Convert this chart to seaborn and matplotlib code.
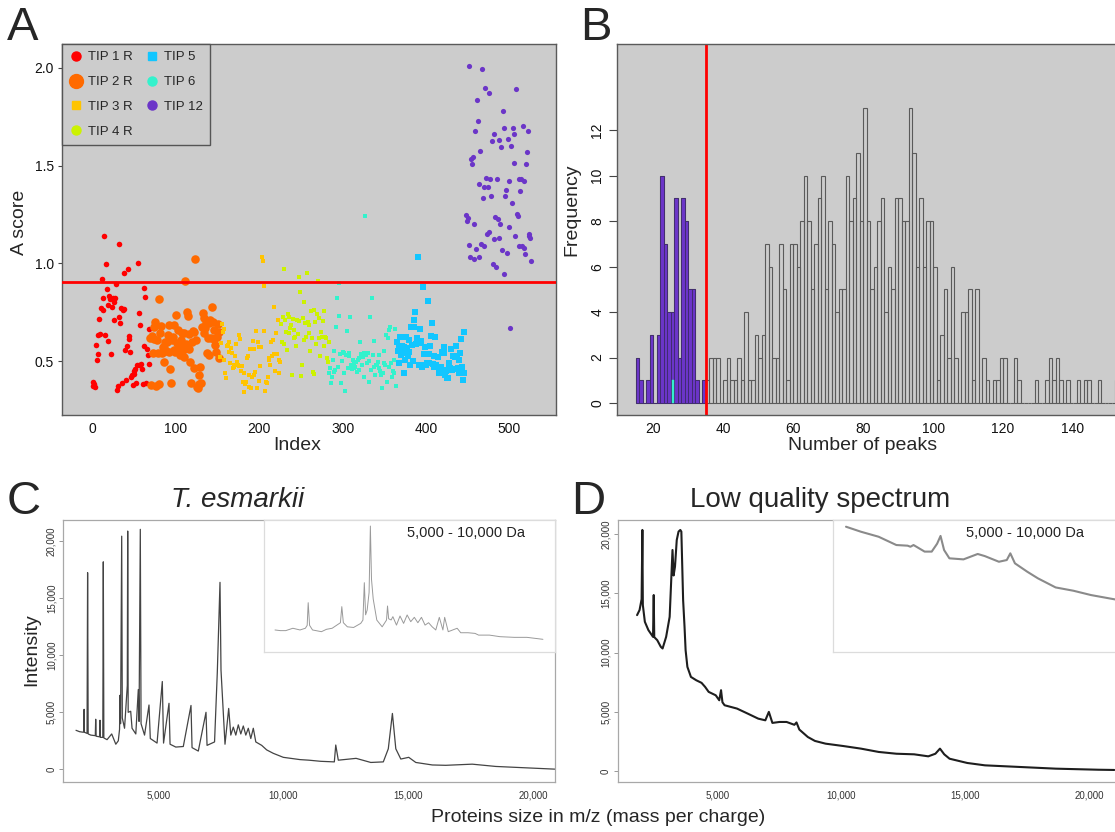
import numpy as np
import pandas as pd
import seaborn as sns
import matplotlib.pyplot as plt
from matplotlib.lines import Line2D

W, H = 1115, 832

# ---------------- panel A: A score per sample ----------------
tip_names = ["TIP 1 R", "TIP 2 R", "TIP 3 R", "TIP 4 R", "TIP 6", "TIP 5", "TIP 12"]
tip_first_index = [0, 69, 153, 226, 284, 365, 448]
tip_colors = ["#ff0000", "#ff6a00", "#ffc400", "#ccf200", "#33f2cc", "#12c6ff", "#6b35c8"]
tip_markers = ["o", "o", "s", "s", "s", "s", "o"]
tip_sizes = [16, 38, 11, 11, 11, 13, 14]

score_tip1r = [0.375, 0.396, 0.384, 0.370, 0.583, 0.508, 0.537, 0.633, 0.714, 0.638,
               0.770, 0.919, 0.822, 0.762, 1.140, 0.633, 0.997, 0.869, 0.602, 0.788,
               0.832, 0.818, 0.537, 0.776, 0.823, 0.709, 0.803, 0.822, 0.895, 0.353,
               0.374, 1.099, 0.728, 0.696, 0.772, 0.387, 0.760, 0.949, 0.767, 0.556,
               0.403, 0.578, 0.970, 0.627, 0.612, 0.546, 0.418, 0.428, 0.377, 0.452,
               0.432, 0.462, 0.391, 0.479, 1.002, 0.747, 0.483, 0.687, 0.486, 0.462,
               0.384, 0.873, 0.580, 0.828, 0.391, 0.563, 0.530, 0.663, 0.488]
score_tip2r = [0.617, 0.378, 0.629, 0.540, 0.613, 0.676, 0.702, 0.373, 0.608, 0.540,
               0.383, 0.819, 0.642, 0.680, 0.540, 0.574, 0.496, 0.566, 0.600, 0.554,
               0.600, 0.634, 0.549, 0.685, 0.458, 0.387, 0.608, 0.625, 0.685, 0.557,
               0.545, 0.736, 0.591, 0.659, 0.561, 0.578, 0.530, 0.608, 0.642, 0.557,
               0.520, 0.642, 0.911, 0.588, 0.753, 0.731, 0.560, 0.639, 0.497, 0.387,
               0.600, 0.656, 0.463, 0.651, 1.020, 0.608, 0.370, 0.361, 0.383, 0.429,
               0.472, 0.390, 0.676, 0.744, 0.719, 0.642, 0.668, 0.693, 0.540, 0.620,
               0.697, 0.532, 0.710, 0.617, 0.775, 0.702, 0.612, 0.660, 0.585, 0.545,
               0.625, 0.690, 0.515, 0.650]
score_tip3r = [0.520, 0.592, 0.689, 0.648, 0.507, 0.663, 0.438, 0.415, 0.578, 0.583,
               0.549, 0.600, 0.490, 0.566, 0.544, 0.464, 0.481, 0.470, 0.524, 0.587,
               0.498, 0.479, 0.634, 0.473, 0.612, 0.452, 0.476, 0.396, 0.340, 0.438,
               0.385, 0.396, 0.517, 0.524, 0.430, 0.370, 0.563, 0.362, 0.421, 0.605,
               0.561, 0.430, 0.445, 0.656, 0.365, 0.600, 0.399, 0.570, 0.473, 0.571,
               1.034, 1.014, 0.883, 0.655, 0.348, 0.396, 0.387, 0.420, 0.507, 0.517,
               0.480, 0.600, 0.524, 0.609, 0.777, 0.536, 0.452, 0.646, 0.537, 0.711,
               0.507, 0.442, 0.498]
score_tip4r = [0.690, 0.600, 0.728, 0.970, 0.587, 0.711, 0.648, 0.558, 0.740, 0.728,
               0.646, 0.668, 0.684, 0.428, 0.714, 0.617, 0.660, 0.626, 0.578, 0.711,
               0.638, 0.932, 0.706, 0.856, 0.425, 0.481, 0.723, 0.805, 0.609, 0.694,
               0.626, 0.953, 0.702, 0.643, 0.685, 0.554, 0.757, 0.617, 0.444, 0.435,
               0.762, 0.700, 0.588, 0.742, 0.910, 0.723, 0.617, 0.527, 0.650, 0.626,
               0.706, 0.754, 0.580, 0.626, 0.617, 0.518, 0.495, 0.600]
score_tip6 = [0.438, 0.467, 0.387, 0.421, 0.507, 0.447, 0.553, 0.456, 0.677, 0.822,
              0.472, 0.730, 0.902, 0.537, 0.391, 0.500, 0.549, 0.438, 0.541, 0.350,
              0.532, 0.655, 0.464, 0.541, 0.524, 0.725, 0.481, 0.460, 0.507, 0.464,
              0.490, 0.472, 0.498, 0.447, 0.507, 0.456, 0.515, 0.600, 0.537, 0.481,
              0.520, 0.544, 0.418, 1.241, 0.532, 0.490, 0.541, 0.501, 0.396, 0.725,
              0.456, 0.825, 0.532, 0.605, 0.472, 0.430, 0.481, 0.480, 0.498, 0.464,
              0.534, 0.452, 0.430, 0.362, 0.438, 0.490, 0.550, 0.481, 0.634, 0.396,
              0.621, 0.660, 0.472, 0.674, 0.490, 0.421, 0.450, 0.507, 0.438, 0.665,
              0.375]
score_tip5 = [0.600, 0.550, 0.580, 0.493, 0.626, 0.532, 0.580, 0.544, 0.442, 0.575,
              0.507, 0.622, 0.566, 0.524, 0.609, 0.549, 0.481, 0.675, 0.582, 0.500,
              0.675, 0.711, 0.750, 0.588, 0.619, 1.031, 0.478, 0.595, 0.665, 0.604,
              0.472, 0.878, 0.481, 0.537, 0.575, 0.480, 0.490, 0.810, 0.537, 0.493,
              0.580, 0.627, 0.697, 0.484, 0.470, 0.529, 0.622, 0.481, 0.472, 0.520,
              0.438, 0.464, 0.450, 0.472, 0.546, 0.456, 0.575, 0.541, 0.430, 0.452,
              0.413, 0.412, 0.490, 0.459, 0.463, 0.563, 0.456, 0.527, 0.461, 0.460,
              0.523, 0.578, 0.524, 0.464, 0.506, 0.440, 0.540, 0.612, 0.472, 0.404,
              0.651, 0.438]
score_tip12 = [1.249, 1.218, 1.230, 2.009, 1.092, 1.034, 1.533, 1.508, 1.542, 1.024,
               1.201, 1.677, 1.075, 1.833, 1.728, 1.404, 1.030, 1.574, 1.100, 1.993,
               1.333, 1.090, 1.390, 1.896, 1.436, 1.152, 1.390, 1.869, 1.160, 1.433,
               1.343, 1.627, 0.997, 1.661, 1.125, 1.237, 0.983, 1.431, 1.228, 1.632,
               1.130, 1.200, 1.596, 1.070, 1.779, 0.947, 1.693, 1.345, 1.373, 1.051,
               1.637, 1.420, 1.184, 0.668, 1.601, 1.310, 1.694, 1.660, 1.515, 1.140,
               1.893, 1.250, 1.240, 1.430, 1.090, 1.371, 1.430, 1.090, 1.704, 1.080,
               1.420, 1.050, 1.508, 1.568, 1.677, 1.150, 1.140, 1.130, 1.010]
score_threshold = 0.905

# ---------------- panel B: number of peaks ----------------
peak_bins = list(range(15, 153))
peak_counts_all = [2, 1, 0, 1, 3, 0, 3, 10, 7, 4, 4, 9, 2, 9, 8, 5, 5, 1, 0, 1,
                   1, 2, 2, 2, 0, 1, 2, 1, 1, 2, 1, 4, 1, 1, 3, 2, 3, 7, 6, 2,
                   2, 7, 5, 1, 7, 7, 6, 8, 10, 8, 5, 7, 9, 10, 5, 8, 7, 4, 5, 5,
                   10, 8, 9, 11, 8, 13, 8, 5, 6, 8, 9, 4, 6, 5, 9, 9, 8, 8, 13, 11,
                   6, 9, 6, 8, 8, 6, 1, 3, 5, 2, 6, 2, 0, 4, 4, 5, 1, 5, 0, 2,
                   1, 0, 1, 1, 2, 2, 0, 0, 2, 1, 0, 0, 0, 0, 1, 0, 0, 1, 2, 1,
                   2, 1, 0, 1, 0, 0, 1, 0, 1, 1, 0, 0, 1, 0, 0, 0, 0, 1]
tip12_bins = list(range(15, 35))
peak_counts_tip12 = [2, 1, 0, 1, 3, 0, 3, 10, 7, 4, 4, 9, 2, 9, 8, 5, 5, 1, 0, 1]
tip6_low_peaks = [25.6]
peak_cutoff = 35

# ---------------- panels C and D: spectra (m/z, intensity) ----------------
spectrum_esmarkii = [(1708, 3420), (1850, 3300), (2000, 3250), (2020, 3300), (2032, 5260), (2045, 3250),
                     (2150, 3150), (2172, 17250), (2195, 3100), (2300, 3000), (2480, 2950), (2496, 4390),
                     (2515, 2900), (2650, 2850), (2668, 4300), (2685, 2800), (2780, 2800), (2800, 18200),
                     (2822, 2750), (2950, 2600), (3136, 3100), (3300, 2200), (3400, 2500), (3450, 3500),
                     (3468, 6490), (3490, 4000), (3536, 20450), (3560, 4500), (3650, 3600), (3760, 7360),
                     (3776, 20900), (3795, 5000), (3896, 5090), (3950, 3600), (4100, 3100), (4200, 7000),
                     (4230, 4200), (4280, 21050), (4310, 4000), (4450, 3000), (4628, 5640), (4680, 2700),
                     (4950, 2300), (5160, 7700), (5210, 2300), (5428, 5790), (5470, 2200), (5700, 1950),
                     (6000, 2000), (6308, 5600), (6350, 1900), (6600, 1600), (6908, 5000), (6950, 2100),
                     (7250, 2400), (7360, 8500), (7468, 16400), (7508, 8700), (7668, 2200), (7816, 5340),
                     (7900, 3000), (8000, 3700), (8100, 3000), (8200, 3900), (8300, 3100), (8400, 3800),
                     (8500, 3000), (8600, 3600), (8700, 2700), (8800, 3600), (8900, 2400), (9136, 2100),
                     (9336, 1700), (9600, 1400), (10000, 1050), (10668, 850), (11024, 800), (11500, 700),
                     (12041, 650), (12098, 2130), (12200, 800), (12912, 960), (13500, 600), (14000, 650),
                     (14200, 1800), (14364, 4900), (14500, 1800), (14700, 900), (15017, 1050), (15300, 600),
                     (15961, 380), (16500, 350), (17558, 450), (18500, 250), (19500, 150), (21000, 0)]
inset_esmarkii = [(5000, 16.5), (5100, 16.0), (5200, 16.0), (5333, 17.8), (5466, 16.5), (5566, 17.8),
                  (5600, 20), (5619, 37.2), (5645, 20), (5700, 16.5), (5866, 15.2), (5960, 17),
                  (6066, 17.8), (6220, 22), (6246, 34.2), (6275, 22), (6350, 18.9), (6466, 18.4),
                  (6599, 21.5), (6640, 24), (6666, 52.4), (6690, 28), (6719, 31.6), (6755, 45),
                  (6779, 95.4), (6800, 55), (6832, 40), (6899, 24), (6999, 18.9), (7080, 24),
                  (7099, 34.7), (7120, 25), (7166, 24.1), (7199, 26.6), (7266, 20.2), (7332, 27.1),
                  (7399, 21.5), (7465, 27.9), (7532, 22.8), (7599, 26.1), (7665, 22.0), (7732, 26.1),
                  (7799, 20.2), (7865, 22.0), (7932, 18.9), (7999, 16.5), (8065, 26.1), (8132, 16.5),
                  (8165, 26.1), (8232, 15.2), (8398, 17.8), (8465, 14.4), (8600, 14.4), (8732, 13.9),
                  (8798, 12.6), (9000, 12.6), (9198, 11.4), (9465, 10.9), (9700, 10.9), (9998, 9.4)]
spectrum_low = [(1757, 13155), (1857, 13580), (1940, 14500), (1971, 20340), (1990, 14000), (2071, 12590),
                (2214, 11890), (2400, 11320), (2429, 14850), (2450, 11300), (2571, 11040), (2714, 10480),
                (2786, 10340), (2929, 11320), (3071, 13010), (3186, 18650), (3230, 16500), (3286, 17240),
                (3357, 19490), (3429, 20200), (3500, 20340), (3543, 20200), (3614, 14420), (3671, 12170),
                (3714, 10200), (3786, 8790), (3929, 7940), (4143, 7660), (4357, 7440), (4500, 7100),
                (4643, 6680), (4929, 6390), (5071, 5970), (5143, 6820), (5200, 5800), (5286, 5550),
                (5786, 5270), (6214, 4850), (6643, 4420), (6929, 4280), (7071, 4990), (7214, 4060),
                (7500, 4140), (7786, 4140), (8100, 3900), (8186, 4100), (8300, 3500), (8643, 2870),
                (8929, 2540), (9357, 2310), (10071, 2110), (10786, 1890), (11500, 1610), (12214, 1460),
                (12929, 1410), (13500, 1240), (13786, 1460), (13971, 1890), (14143, 1410), (14357, 1040),
                (15071, 680), (15786, 480), (17214, 340), (18643, 200), (20357, 110), (21000, 90)]
inset_low = [(5000, 94.9), (5278, 91.1), (5608, 87.3), (5939, 81.0), (6150, 80.5), (6202, 79.7),
             (6260, 81.0), (6467, 76.0), (6599, 76.0), (6700, 82), (6764, 87.9), (6830, 77.2),
             (6929, 70.9), (7192, 70.1), (7457, 74.2), (7590, 72.6), (7853, 68.3), (8000, 69.6),
             (8066, 74.7), (8152, 67.1), (8383, 60.7), (8581, 55.7), (8911, 48.8), (9242, 46.3),
             (9572, 43.0), (10020, 39.7), (10300, 38.5)]
mz_ticks = [5000, 10000, 15000, 20000]
intensity_ticks = [0, 5000, 10000, 15000, 20000]


def box(left, top, right, bottom):
    # pixel box -> figure fraction [l, b, w, h]
    return [left / W, 1 - bottom / H, (right - left) / W, (bottom - top) / H]


def ftext(px, py, s, **kw):
    fig.text(px / W, 1 - py / H, s, **kw)


sns.set_theme(style="ticks")
plt.rcParams["font.family"] = ["Liberation Sans", "DejaVu Sans"]

fig = plt.figure(figsize=(W / 100, H / 100), dpi=100)

# ---- A ----
ax_a = fig.add_axes(box(62, 44, 556, 415))
ax_a.set_facecolor("#cccccc")
scores = [score_tip1r, score_tip2r, score_tip3r, score_tip4r, score_tip6, score_tip5, score_tip12]
rows = []
for name, start, vals in zip(tip_names, tip_first_index, scores):
    for i, v in enumerate(vals):
        rows.append((start + i, v, name))
df_a = pd.DataFrame(rows, columns=["index", "score", "tip"])
for name, col, mk, sz in zip(tip_names, tip_colors, tip_markers, tip_sizes):
    sub = df_a[df_a["tip"] == name]
    sns.scatterplot(data=sub, x="index", y="score", color=col, marker=mk, s=sz,
                    linewidth=0, ax=ax_a, legend=False, zorder=3)
ax_a.axhline(score_threshold, color="#ff0000", lw=2, zorder=4)
ax_a.set_xlim(-36.8, 556)
ax_a.set_ylim(0.225, 2.121)
ax_a.set_xticks([0, 100, 200, 300, 400, 500])
ax_a.set_yticks([0.5, 1.0, 1.5, 2.0])
ax_a.set_yticklabels(["0.5", "1.0", "1.5", "2.0"])
ax_a.set_xlabel("")
ax_a.set_ylabel("")

legend_order = ["TIP 1 R", "TIP 2 R", "TIP 3 R", "TIP 4 R", "TIP 5", "TIP 6", "TIP 12"]
legend_marker = {"TIP 1 R": ("o", 6.5), "TIP 2 R": ("o", 10), "TIP 3 R": ("s", 6), "TIP 4 R": ("o", 6.5),
                 "TIP 5": ("s", 6), "TIP 6": ("o", 6.5), "TIP 12": ("o", 6.5)}
handles = []
for name in legend_order:
    mk, ms = legend_marker[name]
    col = tip_colors[tip_names.index(name)]
    handles.append(Line2D([], [], linestyle="none", marker=mk, markersize=ms,
                          markerfacecolor=col, markeredgecolor=col, label=name))
leg = ax_a.legend(handles=handles, loc="upper left", ncol=2, fontsize=9.5, frameon=True,
                  fancybox=False, framealpha=1, facecolor="#cccccc", edgecolor="#555555",
                  borderaxespad=0, borderpad=0.55, handlelength=1.0, handletextpad=0.45,
                  columnspacing=0.9, labelspacing=0.95)
leg.get_frame().set_linewidth(1.0)

# ---- B ----
ax_b = fig.add_axes(box(617, 44, 1143, 415))
ax_b.set_facecolor("#cccccc")
df_all = pd.DataFrame({"peaks": np.array(peak_bins) + 0.5, "count": peak_counts_all})
df_t12 = pd.DataFrame({"peaks": np.array(tip12_bins) + 0.5, "count": peak_counts_tip12})
sns.histplot(data=df_all, x="peaks", weights="count", binwidth=1, binrange=(15, 153), fill=False,
             color="#5a5a5a", linewidth=0.8, ax=ax_b)
sns.histplot(data=df_t12, x="peaks", weights="count", binwidth=1, binrange=(15, 35),
             color="#6b35c8", alpha=1, edgecolor="#3d2a6a", linewidth=0.6, ax=ax_b)
sns.histplot(x=tip6_low_peaks, binwidth=0.7, binrange=(25.25, 25.95), color="#33f2cc", alpha=1,
             edgecolor="#33f2cc", linewidth=0.3, ax=ax_b)
ax_b.axvline(peak_cutoff, color="#ff0000", lw=2)
ax_b.set_xlim(9.6, 160)
ax_b.set_ylim(-0.53, 15.8)
ax_b.set_xticks([20, 40, 60, 80, 100, 120, 140])
ax_b.set_yticks([0, 2, 4, 6, 8, 10, 12])
ax_b.tick_params(axis="y", labelrotation=90)
for lab in ax_b.get_yticklabels():
    lab.set_va("center")
ax_b.set_xlabel("")
ax_b.set_ylabel("")

for ax in (ax_a, ax_b):
    for sp in ax.spines.values():
        sp.set_color("#5a5a5a")
        sp.set_linewidth(1.0)
    ax.tick_params(labelsize=10, width=0.8, color="#444444", labelcolor="#111111")
    ax.tick_params(axis="x", length=0, pad=5)
    ax.grid(False)
ax_a.tick_params(axis="y", length=3, pad=3)
ax_b.tick_params(axis="y", length=6, pad=3)


# ---- C and D ----
def spectrum_panel(rect, pts, lw, col, xlim, ylim):
    ax = fig.add_axes(rect)
    ax.set_facecolor("white")
    mz = [p[0] for p in pts]
    inten = [p[1] for p in pts]
    sns.lineplot(x=mz, y=inten, sort=False, estimator=None, color=col, linewidth=lw, ax=ax)
    ax.set_xlim(*xlim)
    ax.set_ylim(*ylim)
    ax.set_xticks(mz_ticks)
    ax.set_xticklabels([f"{t:,}" for t in mz_ticks])
    ax.set_yticks(intensity_ticks)
    ax.set_yticklabels([f"{t:,}" for t in intensity_ticks])
    ax.tick_params(labelsize=7, length=3, width=0.6, color="#888888", labelcolor="#333333", pad=2)
    ax.tick_params(axis="x", length=0, pad=6)
    ax.tick_params(axis="y", labelrotation=90)
    for lab in ax.get_yticklabels():
        lab.set_va("center")
    for sp in ax.spines.values():
        sp.set_color("#a8a8a8")
        sp.set_linewidth(0.9)
    return ax


def inset_panel(rect, pts, lw, col, xlim, text_x):
    ax = fig.add_axes(rect)
    ax.set_facecolor("white")
    sns.lineplot(x=[p[0] for p in pts], y=[p[1] for p in pts], sort=False, estimator=None,
                 color=col, linewidth=lw, ax=ax)
    ax.set_xlim(*xlim)
    ax.set_ylim(0, 100)
    ax.set_xticks([])
    ax.set_yticks([])
    for sp in ax.spines.values():
        sp.set_color("#dcdcdc")
        sp.set_linewidth(0.9)
    ax.text(text_x, 0.90, "5,000 - 10,000 Da", transform=ax.transAxes, ha="right", va="center",
            fontsize=10.5, color="#222222")
    return ax


ax_c = spectrum_panel(box(63.3, 520, 554.6, 781.7), spectrum_esmarkii, 0.9, "#444444",
                      (1200, 20852), (-1088, 21870))
inset_panel(box(263.6, 520, 554.6, 651.7), inset_esmarkii, 0.7, "#9a9a9a", (4787, 10216), 0.898)

ax_d = spectrum_panel(box(617.7, 520, 1125, 781.7), spectrum_low, 1.5, "#1e1e1e",
                      (976, 21432), (-900, 21180))
inset_panel(box(832.6, 520, 1124, 651.7), inset_low, 1.5, "#8a8a8a", (4750, 10187), 0.863)

# ---- labels and panel letters ----
ftext(19, 222, "A score", rotation=90, ha="center", va="center", fontsize=14)
ftext(297, 445, "Index", ha="center", va="center", fontsize=14)
ftext(572, 210, "Frequency", rotation=90, ha="center", va="center", fontsize=14)
ftext(863, 446, "Number of peaks", ha="center", va="center", fontsize=14)
ftext(32, 650, "Intensity", rotation=90, ha="center", va="center", fontsize=14)
ftext(598, 818, "Proteins size in m/z (mass per charge)", ha="center", va="center", fontsize=14)
ftext(238, 507, "T. esmarkii", ha="center", va="baseline", fontsize=20, style="italic")
ftext(820, 507, "Low quality spectrum", ha="center", va="baseline", fontsize=20)

for letter, px, py in [("A", 7, 40), ("B", 580, 40), ("C", 7, 514), ("D", 571, 514)]:
    ftext(px, py, letter, ha="left", va="baseline", fontsize=34)

fig.savefig("out.png", dpi=100)
